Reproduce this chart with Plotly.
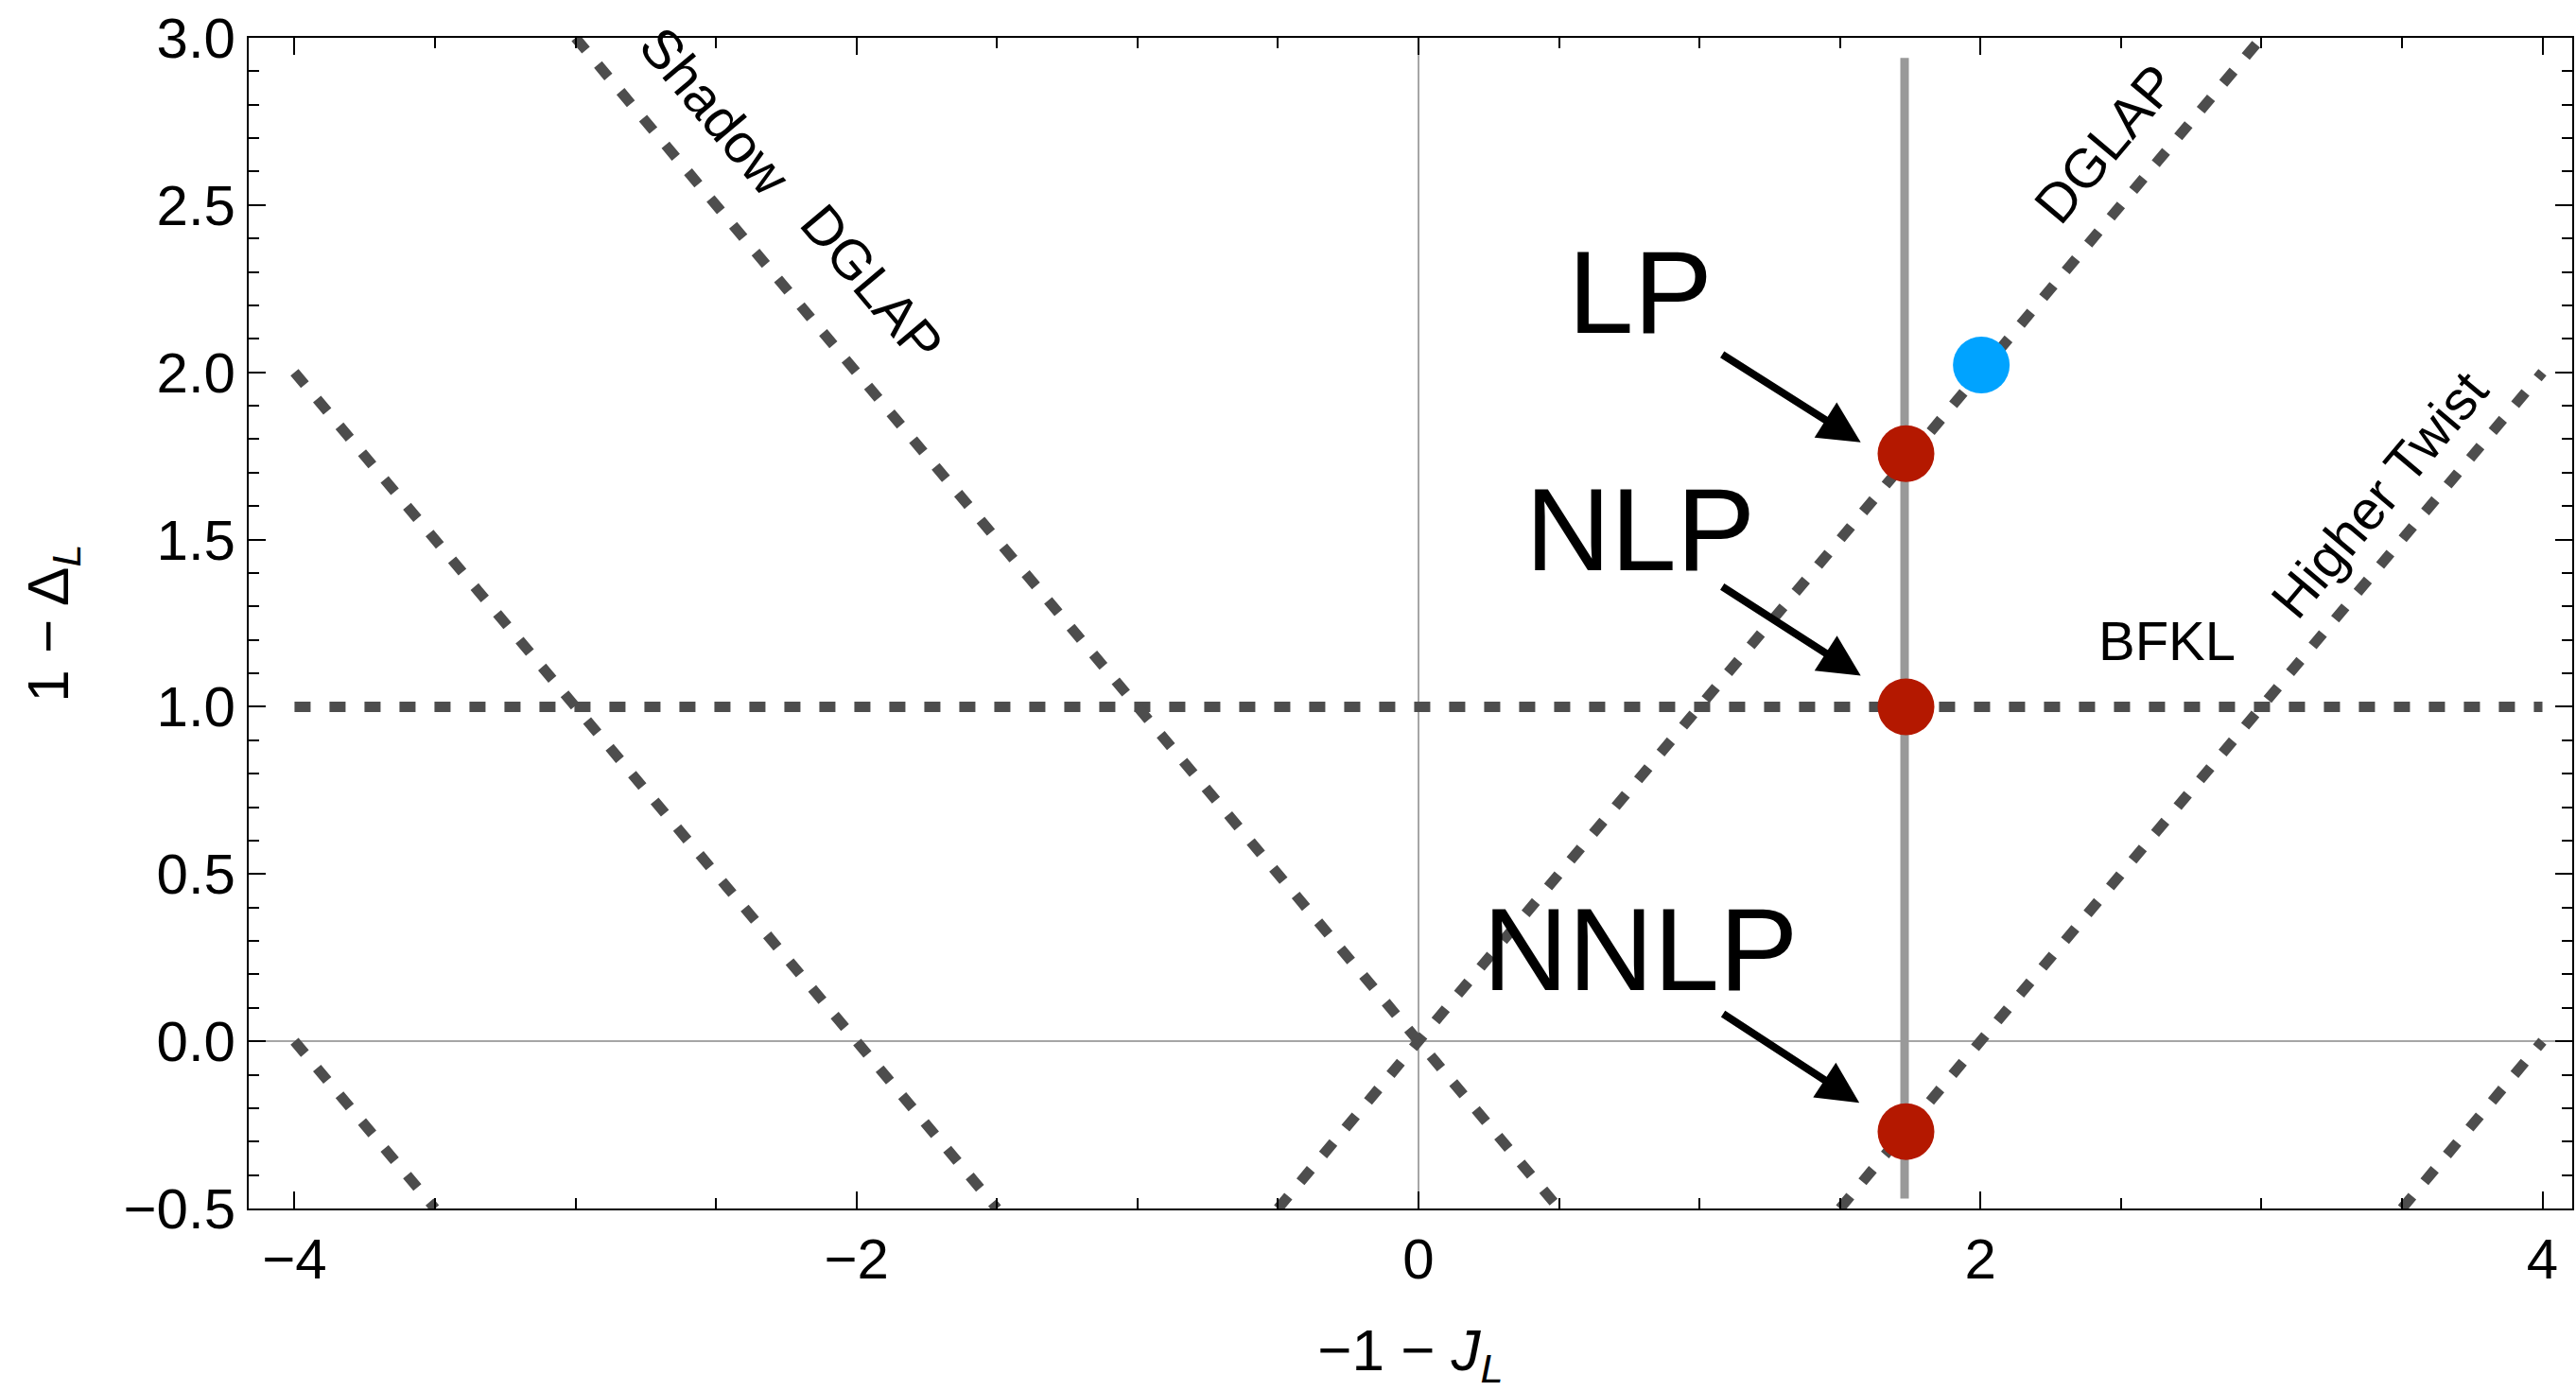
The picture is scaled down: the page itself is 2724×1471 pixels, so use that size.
import plotly.graph_objects as go

# ---------------- data ----------------
# visible segments of the trajectories (x start/end, y start/end)
line_names = ["BFKL", "DGLAP", "Shadow DGLAP", "Shadow 2", "Shadow 3", "Higher Twist", "Higher Twist 2"]
line_x0 = [-4.0, -0.5, -3.0, -4.0, -4.0, 1.5, 3.5]
line_x1 = [4.0, 3.0, 0.5, -1.5, -3.5, 4.0, 4.0]
line_y0 = [1.0, -0.5, 3.0, 2.0, 0.0, -0.5, -0.5]
line_y1 = [1.0, 3.0, -0.5, -0.5, -0.5, 2.0, 0.0]

# vertical gray line
vline_x = [1.73, 1.73]
vline_y = [-0.47, 2.94]

# red points (LP, NLP, NNLP)
red_x = [1.735, 1.735, 1.735]
red_y = [1.757, 1.0, -0.27]

# blue point
blue_x = [2.003]
blue_y = [2.022]

# big labels and arrows
big_labels = ["LP", "NLP", "NNLP"]
big_lx = [0.79, 0.79, 0.79]
big_ly = [2.24, 1.53, 0.277]
arrow_tail_x = [1.076, 1.076, 1.079]
arrow_tail_y = [2.056, 1.362, 0.085]
arrow_tip_x = [1.574, 1.574, 1.569]
arrow_tip_y = [1.791, 1.093, -0.184]

# line labels
lab_text = ["Shadow", "DGLAP", "DGLAP", "Higher Twist", "BFKL"]
lab_x = [-2.502, -1.944, 2.445, 3.42, 2.665]
lab_y = [2.780, 2.266, 2.684, 1.635, 1.199]
lab_angle = [50, 50, -50, -50, 0]

x_ticks = [-4, -2, 0, 2, 4]
y_ticks = [-0.5, 0.0, 0.5, 1.0, 1.5, 2.0, 2.5, 3.0]

FONT = "Liberation Sans, Arial, Helvetica, sans-serif"

fig = go.Figure()

for i in range(len(line_names)):
    fig.add_trace(go.Scatter(
        x=[line_x0[i], line_x1[i]], y=[line_y0[i], line_y1[i]],
        mode="lines", name=line_names[i],
        line=dict(color="#4d4d4d", width=11, dash="17px,20px"),
        hoverinfo="skip", showlegend=False))

fig.add_trace(go.Scatter(
    x=vline_x, y=vline_y, mode="lines",
    line=dict(color="#999999", width=9),
    hoverinfo="skip", showlegend=False))

fig.add_trace(go.Scatter(
    x=red_x, y=red_y, mode="markers",
    marker=dict(size=60, color="#b41800", line=dict(width=0)),
    showlegend=False))

fig.add_trace(go.Scatter(
    x=blue_x, y=blue_y, mode="markers",
    marker=dict(size=60, color="#00a3ff", line=dict(width=0)),
    showlegend=False))

annotations = []
for i in range(len(big_labels)):
    annotations.append(dict(
        x=big_lx[i], y=big_ly[i], xref="x", yref="y", text=big_labels[i],
        showarrow=False, xanchor="center", yanchor="middle",
        font=dict(family=FONT, size=125, color="black")))
    annotations.append(dict(
        x=arrow_tip_x[i], y=arrow_tip_y[i], xref="x", yref="y",
        ax=arrow_tail_x[i], ay=arrow_tail_y[i], axref="x", ayref="y",
        text="", showarrow=True, arrowhead=2, arrowsize=1.1,
        arrowwidth=8, arrowcolor="black", standoff=0, startstandoff=0))

for i in range(len(lab_text)):
    annotations.append(dict(
        x=lab_x[i], y=lab_y[i], xref="x", yref="y", text=lab_text[i],
        showarrow=False, textangle=lab_angle[i],
        xanchor="center", yanchor="middle",
        font=dict(family=FONT, size=58, color="black")))

axis_common = dict(
    ticks="inside", ticklen=18, tickwidth=2, tickcolor="black",
    showline=True, linecolor="black", linewidth=2, mirror="ticks",
    showgrid=False, zeroline=True, zerolinecolor="#a6a6a6", zerolinewidth=1.5,
    tickfont=dict(family=FONT, size=60, color="black"),
)

fig.update_layout(
    width=2724, height=1471,
    margin=dict(l=263, r=2, t=40, b=193),
    paper_bgcolor="white", plot_bgcolor="white",
    annotations=annotations,
    xaxis=dict(
        range=[-4.163, 4.106], tickvals=x_ticks,
        minor=dict(dtick=0.5, tick0=0, ticks="inside", ticklen=11,
                   tickwidth=2, tickcolor="black", showgrid=False),
        title=dict(text="\u22121 \u2212 <i>J</i><sub><i>L</i></sub>",
                   font=dict(family=FONT, size=62, color="black"), standoff=48),
        **axis_common),
    yaxis=dict(
        range=[-0.5, 3.0], tickvals=y_ticks, tickformat=".1f",
        minor=dict(dtick=0.1, tick0=0, ticks="inside", ticklen=11,
                   tickwidth=2, tickcolor="black", showgrid=False),
        title=dict(text="1 \u2212 \u0394<sub><i>L</i></sub>",
                   font=dict(family=FONT, size=62, color="black"), standoff=38),
        **axis_common),
)

fig.write_html("out.html")
